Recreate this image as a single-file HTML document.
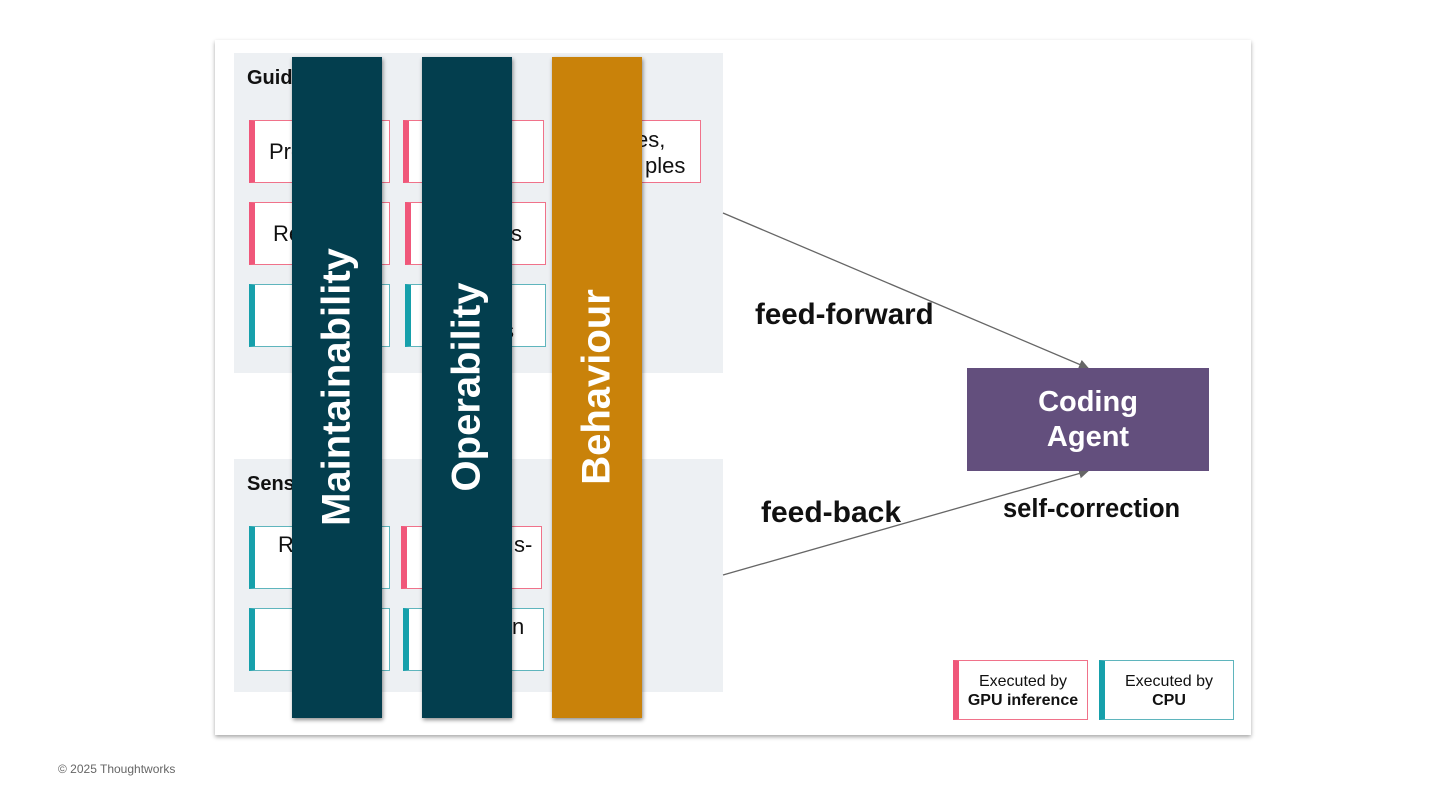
<!DOCTYPE html>
<html><head><meta charset="utf-8"><style>
body{margin:0;width:1440px;height:810px;background:#fff;position:relative;overflow:hidden;font-family:"Liberation Sans",sans-serif;}
.a{position:absolute;}
.card{left:215px;top:40px;width:1036px;height:695px;background:#fff;box-shadow:0 2px 4px rgba(0,0,0,.35);}
.panel{background:#edf0f3;}
.box{position:absolute;background:#fff;box-sizing:border-box;font-size:22px;color:#111;}
.pk{border:1.5px solid #f0728a;border-left:6px solid #f0577a;}
.tl{border:1.5px solid #5fb5bd;border-left:6px solid #16a0ab;}
.t{position:absolute;font-size:22px;color:#111;white-space:nowrap;}
.bar{position:absolute;top:57px;width:90px;height:661px;box-shadow:1px 2px 4px rgba(0,0,0,.45);}
.bar span{position:absolute;left:45px;top:330px;transform:translate(-50%,-50%) rotate(-90deg);white-space:nowrap;color:#fff;font-weight:bold;font-size:40px;}
.lbl{position:absolute;font-weight:bold;color:#111;white-space:nowrap;}
</style></head><body>
<div class="a card"></div>
<div class="a panel" style="left:234px;top:53px;width:489px;height:320px"></div>
<div class="a panel" style="left:234px;top:459px;width:489px;height:233px"></div>
<div class="lbl" style="left:247px;top:67px;font-size:20px">Guides</div>
<div class="lbl" style="left:247px;top:473px;font-size:20px">Sensors</div>

<div class="box pk" style="left:249px;top:120px;width:141px;height:63px"></div>
<div class="box pk" style="left:403px;top:120px;width:141px;height:63px"></div>
<div class="box pk" style="left:556px;top:120px;width:145px;height:63px"></div>
<div class="box pk" style="left:249px;top:202px;width:141px;height:63px"></div>
<div class="box pk" style="left:405px;top:202px;width:141px;height:63px"></div>
<div class="box tl" style="left:249px;top:284px;width:141px;height:63px"></div>
<div class="box tl" style="left:405px;top:284px;width:141px;height:63px"></div>
<div class="box tl" style="left:249px;top:526px;width:141px;height:63px"></div>
<div class="box pk" style="left:401px;top:526px;width:141px;height:63px"></div>
<div class="box tl" style="left:249px;top:608px;width:141px;height:63px"></div>
<div class="box tl" style="left:403px;top:608px;width:141px;height:63px"></div>

<span class="t" style="left:269px;top:139px">Prompts</span>
<span class="t" style="left:273px;top:221px">Refs</span>
<span class="t" style="left:278px;top:532px">Review</span>
<span class="t" style="left:603px;top:127px">Rules,</span>
<span class="t" style="left:645px;top:153px">ples</span>
<span class="t" style="left:511px;top:221px">s</span>
<span class="t" style="left:503px;top:318px">s</span>
<span class="t" style="left:514px;top:532px">s-</span>
<span class="t" style="left:512px;top:614px">n</span>

<div class="bar" style="left:292px;background:#033e4e"><span>Maintainability</span></div>
<div class="bar" style="left:422px;background:#033e4e"><span>Operability</span></div>
<div class="bar" style="left:552px;background:#c9820a"><span>Behaviour</span></div>

<svg class="a" style="left:0;top:0" width="1440" height="810">
<defs><marker id="ar" markerWidth="10" markerHeight="10" refX="9" refY="5" orient="auto" markerUnits="userSpaceOnUse"><path d="M0,0 L10,5 L0,10z" fill="#666"/></marker></defs>
<line x1="723" y1="213" x2="1088" y2="368" stroke="#666" stroke-width="1.3" marker-end="url(#ar)"/>
<line x1="723" y1="575" x2="1088" y2="471" stroke="#666" stroke-width="1.3" marker-end="url(#ar)"/>
</svg>
<div class="a" style="left:967px;top:368px;width:242px;height:103px;background:#634f7d;color:#fff;font-weight:bold;font-size:29px;text-align:center;line-height:35px;display:flex;align-items:center;justify-content:center">Coding<br>Agent</div>
<div class="lbl" style="left:755px;top:298px;font-size:29.5px">feed-forward</div>
<div class="lbl" style="left:761px;top:496px;font-size:30px">feed-back</div>
<div class="lbl" style="left:1003px;top:495px;font-size:25.5px">self-correction</div>

<div class="box pk" style="left:953px;top:660px;width:135px;height:60px;font-size:16px;text-align:center;line-height:19px;padding-top:11px">Executed by<br><b>GPU inference</b></div>
<div class="box tl" style="left:1099px;top:660px;width:135px;height:60px;font-size:16px;text-align:center;line-height:19px;padding-top:11px">Executed by<br><b>CPU</b></div>

<div class="a" style="left:58px;top:762px;font-size:12px;color:#666">© 2025 Thoughtworks</div>
</body></html>
